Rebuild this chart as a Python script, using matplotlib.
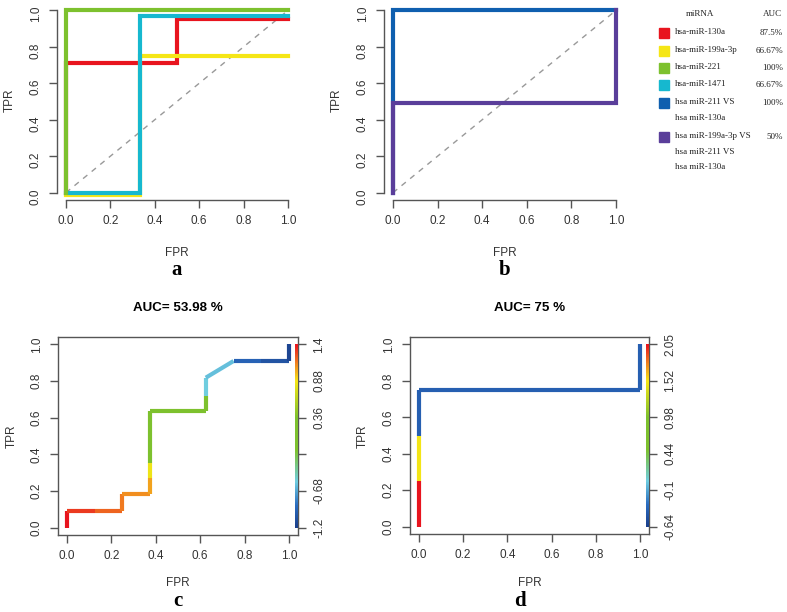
import numpy as np
import matplotlib.pyplot as plt
from matplotlib.collections import LineCollection
from matplotlib.colors import LinearSegmentedColormap

W, H = 787, 612

# panel a: ROC curves of single miRNAs
a_names = ['hsa-miR-130a', 'hsa-miR-199a-3p', 'hsa-miR-221', 'hsa-miR-1471']
a_colors = ['#e8141e', '#f5e616', '#7dc12e', '#16b8cf']
a_fpr = [[0, 0, 0.5, 0.5, 1],
         [0, 0.333, 0.333, 1],
         [0, 0, 1],
         [0, 0.333, 0.333, 1]]
a_tpr = [[0, 0.71, 0.71, 0.95, 0.95],
         [-0.01, -0.01, 0.75, 0.75],
         [0, 1, 1],
         [0, 0, 0.97, 0.97]]
a_order = [0, 1, 3, 2]

# panel b: combined models
b_colors = ['#0f5faf', '#5a3e9a']
b_fpr = [[0, 0, 1], [0, 0, 1, 1]]
b_tpr = [[0, 1, 1], [0, 0.49, 0.49, 1]]

# legend
leg_labels = ['hsa-miR-130a', 'hsa-miR-199a-3p', 'hsa-miR-221', 'hsa-miR-1471',
              'hsa miR-211 VS\nhsa miR-130a',
              'hsa miR-199a-3p VS\nhsa miR-211 VS\nhsa miR-130a']
leg_auc = ['87.5%', '66.67%', '100%', '66.67%', '100%', '50%']
leg_colors = a_colors + b_colors

# panel c: colorized ROC
c_fpr = [0, 0, 0.125, 0.25, 0.25, 0.375, 0.375, 0.375, 0.375, 0.625, 0.625, 0.625, 0.75, 0.875, 1, 1]
c_tpr = [0, 0.091, 0.091, 0.091, 0.182, 0.182, 0.27, 0.355, 0.636, 0.636, 0.72, 0.818, 0.909, 0.909, 0.909, 1]
c_cut = [1.4, 1.3, 1.2, 1.15, 1.1, 1.05, 0.85, 0.3, 0.25, 0.0, -0.55, -0.6, -0.95, -1.05, -1.15]
c_range = (-1.2, 1.4)
c_cbar_labels = ['-1.2', '-0.68', '', '0.36', '0.88', '1.4']
c_title = 'AUC= 53.98 %'

# panel d
d_fpr = [0, 0, 0, 0, 1, 1]
d_tpr = [0, 0.25, 0.5, 0.75, 0.75, 1]
d_cut = [2.05, 1.5, -0.4, -0.4, -0.4]
d_range = (-0.64, 2.05)
d_cbar_labels = ['-0.64', '-0.1', '0.44', '0.98', '1.52', '2.05']
d_title = 'AUC= 75 %'

cmap = LinearSegmentedColormap.from_list('roc', [
    (0.0, '#1b3f8b'), (0.12, '#2a6cc0'), (0.25, '#6fcde0'), (0.42, '#7dc12e'),
    (0.6, '#7dc12e'), (0.8, '#f5e616'), (0.9, '#f08020'), (1.0, '#e8141e')])

plt.rcParams['font.family'] = ['Liberation Sans', 'DejaVu Sans']
fig = plt.figure(figsize=(W / 100, H / 100), dpi=100)

AX = '#555555'
ticks = [0, 0.2, 0.4, 0.6, 0.8, 1.0]
tlab = ['0.0', '0.2', '0.4', '0.6', '0.8', '1.0']


def rect(l, t, r, b):
    return [l / W, 1 - b / H, (r - l) / W, (b - t) / H]


def ftext(x, y, s, **kw):
    fig.text(x / W, 1 - y / H, s, ha='center', va='center', **kw)


def base(ax, box):
    ax.set_xlim(-0.04, 1.04)
    ax.set_ylim(-0.04, 1.04)
    ax.set_xticks(ticks, tlab)
    ax.set_yticks(ticks, tlab)
    ax.tick_params(colors=AX, labelcolor='#333333', labelsize=8.5, length=6, width=1, pad=5)
    ax.tick_params(axis='y', labelrotation=90)
    for t in ax.get_yticklabels():
        t.set_va('center')
    for s in ax.spines.values():
        s.set_color(AX)
        s.set_linewidth(1)
    if not box:
        ax.spines['top'].set_visible(False)
        ax.spines['right'].set_visible(False)
        ax.spines['left'].set_bounds(0, 1)
        ax.spines['bottom'].set_bounds(0, 1)
        ax.spines['left'].set_position(('data', -0.04))
        ax.spines['bottom'].set_position(('data', -0.04))


# --- a ---
ax = fig.add_axes(rect(57, 3, 297, 200))
base(ax, False)
ax.plot([0, 1], [0, 1], color='#999999', lw=1, ls=(0, (4, 4)))
for i in a_order:
    ax.plot(a_fpr[i], a_tpr[i], color=a_colors[i], lw=3, solid_joinstyle='miter')
ftext(10, 100, 'TPR', rotation=90, fontsize=8.5, color='#333333')
ftext(177, 253, 'FPR', fontsize=8.5, color='#333333')
ftext(177, 270, 'a', fontsize=15, fontweight='bold', family='Liberation Serif')

# --- b ---
ax = fig.add_axes(rect(384, 3, 625, 200))
base(ax, False)
ax.plot([0, 1], [0, 1], color='#999999', lw=1, ls=(0, (4, 4)))
for i in range(2):
    ax.plot(b_fpr[i], b_tpr[i], color=b_colors[i], lw=3, solid_joinstyle='miter')
ftext(337, 100, 'TPR', rotation=90, fontsize=8.5, color='#333333')
ftext(505, 253, 'FPR', fontsize=8.5, color='#333333')
ftext(505, 270, 'b', fontsize=15, fontweight='bold', family='Liberation Serif')

# --- legend ---
ser = dict(family='Liberation Serif', fontsize=6.5, color='#222222')
ftext(700, 14, 'miRNA', **ser)
ftext(772, 14, 'AUC', **ser)
row_y = [33, 51, 68, 85, 103, 137]
for lab, auc, col, y in zip(leg_labels, leg_auc, leg_colors, row_y):
    fig.patches.append(plt.Rectangle((659 / W, 1 - (y + 5) / H), 10 / W, 10 / H,
                                     color=col, transform=fig.transFigure, figure=fig))
    fig.text(675 / W, 1 - (y - 5) / H, lab, ha='left', va='top', linespacing=2.25, **ser)
    fig.text(783 / W, 1 - y / H, auc, ha='right', va='center', **ser)


def colorized(ax, fpr, tpr, cut, rng, cbar_labels):
    base(ax, True)
    norm = plt.Normalize(*rng)
    pts = np.column_stack([fpr, tpr])
    segs = np.stack([pts[:-1], pts[1:]], axis=1)
    lc = LineCollection(segs, colors=cmap(norm(np.array(cut))), linewidths=3, capstyle='butt')
    ax.add_collection(lc)
    grad = np.linspace(0, 1, 200).reshape(-1, 1)
    ax.imshow(grad, cmap=cmap, origin='lower', aspect='auto',
              extent=(1.027, 1.038, 0, 1), zorder=3)
    ax.set_xlim(-0.04, 1.04)
    ax.set_ylim(-0.04, 1.04)
    ax2 = ax.twinx()
    ax2.set_ylim(-0.04, 1.04)
    ax2.set_yticks(ticks, cbar_labels)
    ax2.tick_params(colors=AX, labelcolor='#333333', labelsize=8.5, length=6, width=1, pad=5,
                    labelrotation=90)
    for t in ax2.get_yticklabels():
        t.set_va('center')
    for s in ax2.spines.values():
        s.set_visible(False)


# --- c ---
ax = fig.add_axes(rect(58, 337, 298, 535))
colorized(ax, c_fpr, c_tpr, c_cut, c_range, c_cbar_labels)
ftext(178, 308, c_title, fontsize=9.6, fontweight='bold')
ftext(12, 436, 'TPR', rotation=90, fontsize=8.5, color='#333333')
ftext(178, 583, 'FPR', fontsize=8.5, color='#333333')
ftext(178, 601, 'c', fontsize=15, fontweight='bold', family='Liberation Serif')

# --- d ---
ax = fig.add_axes(rect(410, 337, 649, 534))
colorized(ax, d_fpr, d_tpr, d_cut, d_range, d_cbar_labels)
ftext(530, 308, d_title, fontsize=9.6, fontweight='bold')
ftext(363, 436, 'TPR', rotation=90, fontsize=8.5, color='#333333')
ftext(530, 583, 'FPR', fontsize=8.5, color='#333333')
ftext(520, 601, 'd', fontsize=15, fontweight='bold', family='Liberation Serif')

fig.savefig('out.png', dpi=100)
